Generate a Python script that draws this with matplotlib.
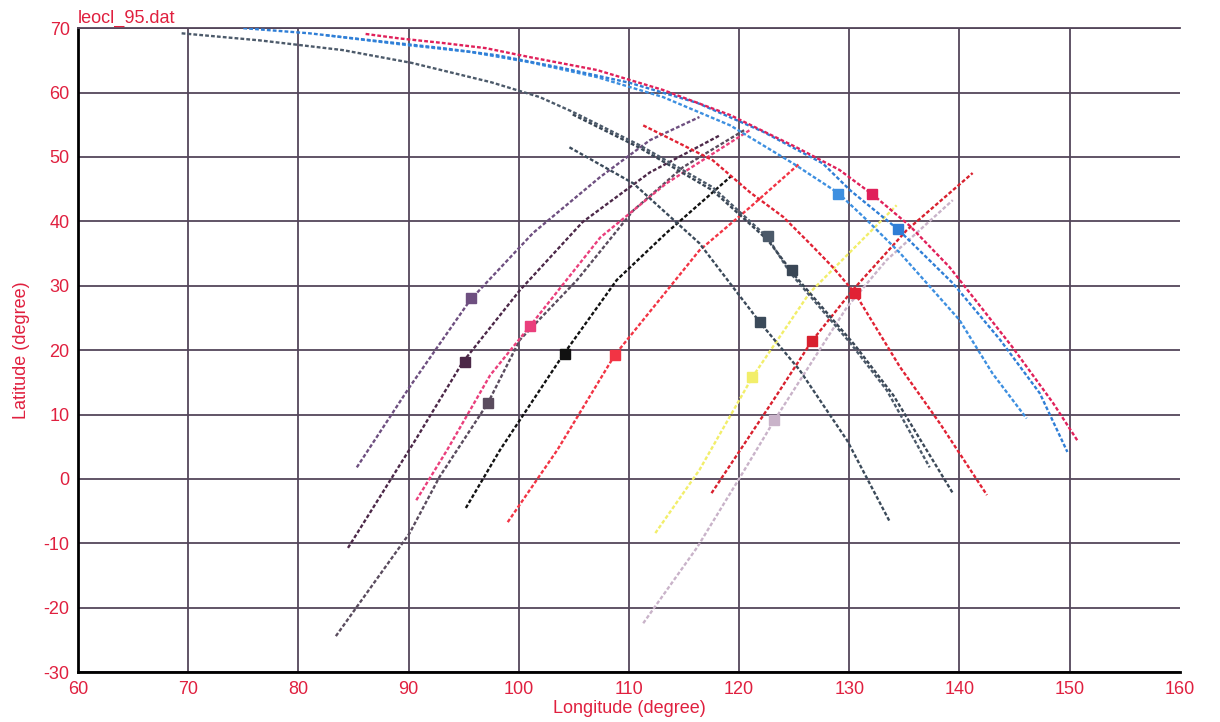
import matplotlib

matplotlib.use("Agg")
import matplotlib.pyplot as plt

# ground tracks: (longitude, latitude) in degrees
purple_lon = [85.3, 90.1, 95.6, 101.3, 107.4, 111.9, 116.4]
purple_lat = [1.8, 14.3, 27.8, 38.2, 46.9, 52.6, 56.2]

plum_lon = [84.5, 90.6, 94.9, 100.1, 105.8, 111.9, 118.3]
plum_lat = [-10.7, 6.0, 18.1, 29.3, 39.9, 47.6, 53.4]

grey_up_lon = [83.4, 90.1, 92.8, 97.2, 100.1, 105.3, 110.4, 114.9, 120.5]
grey_up_lat = [-24.4, -8.4, 0.3, 11.8, 21.6, 30.9, 41.7, 48.4, 54.2]

pink_lon = [90.7, 93.5, 97.4, 101.0, 107.4, 113.4, 121.0]
pink_lat = [-3.3, 4.5, 16.1, 23.7, 37.5, 45.9, 54.2]

black_lon = [95.2, 98.3, 104.0, 108.9, 113.4, 119.4]
black_lat = [-4.5, 4.5, 19.2, 30.9, 38.2, 47.2]

red_up1_lon = [99.0, 103.5, 108.7, 116.4, 121.0, 125.5]
red_up1_lat = [-6.7, 4.5, 19.2, 35.5, 42.2, 49.0]

yellow_lon = [112.4, 116.4, 121.2, 126.4, 134.3]
yellow_lat = [-8.4, 1.4, 15.8, 28.9, 42.5]

red_up2_lon = [117.5, 123.1, 126.6, 130.3, 135.2, 141.2]
red_up2_lat = [-2.2, 12.2, 21.4, 29.3, 38.6, 47.5]

lilac_lon = [111.3, 116.2, 120.1, 123.2, 129.8, 133.4, 139.4]
lilac_lat = [-22.4, -10.6, 0.3, 9.1, 26.7, 34.0, 43.3]

slate_lon = [104.6, 110.4, 116.4, 121.9, 125.5, 129.8, 133.7]
slate_lat = [51.5, 45.9, 36.6, 24.3, 16.9, 6.0, -6.7]

grey_a_lon = [69.4, 76.5, 84.0, 90.3, 97.5, 101.9, 104.9, 111.0, 117.6,
              122.6, 124.6, 130.1, 133.4, 137.3]
grey_a_lat = [69.2, 68.1, 66.6, 64.6, 61.6, 59.3, 57.0, 51.8, 45.3,
              37.5, 32.1, 21.1, 13.8, 1.8]

grey_b_lon = [104.9, 111.0, 117.6, 122.6, 125.1, 130.5, 134.0, 139.4]
grey_b_lat = [56.6, 51.4, 44.8, 37.1, 31.5, 20.8, 13.0, -2.2]

blue1_lon = [82.5, 89.2, 95.6, 101.0, 107.1, 113.1, 119.2, 124.9, 129.0,
             131.6, 134.6, 140.0, 143.0, 146.1]
blue1_lat = [68.9, 67.5, 66.3, 64.7, 62.4, 59.3, 54.9, 49.0, 44.4,
             40.2, 35.1, 24.7, 16.4, 9.4]

blue2_lon = [75.0, 81.0, 86.7, 93.1, 98.0, 104.0, 110.1, 116.2, 122.2,
             127.6, 130.1, 134.4, 139.4, 143.7, 147.3, 149.8]
blue2_lat = [70.0, 69.2, 68.1, 66.9, 65.8, 63.8, 61.5, 58.4, 53.9,
             49.0, 44.8, 38.8, 30.4, 21.6, 13.3, 4.2]

crimson_lon = [86.1, 89.2, 93.1, 97.0, 101.0, 107.1, 113.1, 119.2, 125.2,
               129.1, 132.1, 135.5, 139.1, 144.8, 148.5, 150.7]
crimson_lat = [69.1, 68.4, 67.7, 66.9, 65.5, 63.5, 60.4, 56.5, 51.5,
               48.0, 44.2, 39.3, 32.9, 20.5, 11.8, 6.0]

red_down_lon = [111.3, 114.6, 117.6, 121.0, 124.0, 126.4, 128.5, 130.5,
                134.6, 138.2, 142.5]
red_down_lat = [54.9, 52.1, 49.5, 44.5, 40.7, 36.6, 32.9, 28.9,
                17.4, 8.7, -2.5]

# current satellite positions (square markers)
now_lon = [95.7, 95.1, 97.2, 101.0, 104.2, 108.7, 121.2, 126.6, 123.2,
           121.9, 122.6, 124.8, 129.0, 134.4, 132.1, 130.5]
now_lat = [28.1, 18.1, 11.8, 23.7, 19.4, 19.2, 15.8, 21.4, 9.1,
           24.3, 37.7, 32.4, 44.2, 38.8, 44.2, 28.9]

tracks = [
    (purple_lon, purple_lat), (plum_lon, plum_lat), (grey_up_lon, grey_up_lat),
    (pink_lon, pink_lat), (black_lon, black_lat), (red_up1_lon, red_up1_lat),
    (yellow_lon, yellow_lat), (red_up2_lon, red_up2_lat), (lilac_lon, lilac_lat),
    (slate_lon, slate_lat), (grey_a_lon, grey_a_lat), (grey_b_lon, grey_b_lat),
    (blue1_lon, blue1_lat), (blue2_lon, blue2_lat), (crimson_lon, crimson_lat),
    (red_down_lon, red_down_lat),
]
colors = ["#6e4f80", "#4c2848", "#5a4c5e", "#ea3f7c", "#111111", "#f23444",
          "#f2ee6a", "#d8202e", "#c9b3c9", "#3b4a5a", "#4c5a6a", "#3a4756",
          "#3d8fe0", "#2f7ed6", "#e0205a", "#e12234"]

RED = "#e0203f"
GRID = "#54465a"

plt.rcParams["font.family"] = ["Liberation Sans", "DejaVu Sans"]
plt.rcParams["axes.unicode_minus"] = False

fig = plt.figure(figsize=(12.2, 7.22), dpi=100)
ax = fig.add_axes([0.064, 0.069, 0.903, 0.892])

for (xs, ys), c in zip(tracks, colors):
    ax.plot(xs, ys, color=c, lw=1.7, ls=(0, (1.6, 0.9)), zorder=3)
for x, y, c in zip(now_lon, now_lat, colors):
    ax.plot([x], [y], marker="s", ms=7, color=c, mec=c, zorder=4)

ax.set_xlim(60, 160)
ax.set_ylim(-30, 70)
ax.set_xticks(range(60, 161, 10))
ax.set_yticks(range(-30, 71, 10))
ax.grid(True, color=GRID, lw=1.3, zorder=1)
ax.get_xgridlines()[-1].set_visible(False)
ax.tick_params(length=0, labelsize=13, labelcolor=RED, pad=6)

for side in ("left", "bottom"):
    ax.spines[side].set_color("black")
    ax.spines[side].set_linewidth(2)
ax.spines["top"].set_color(GRID)
ax.spines["top"].set_linewidth(1.3)
ax.spines["right"].set_visible(False)

ax.set_xlabel("Longitude (degree)", fontsize=13, color=RED, labelpad=2)
ax.set_ylabel("Latitude (degree)", fontsize=13, color=RED, labelpad=10)
ax.set_title("leocl_95.dat", fontsize=13, color=RED, loc="left", pad=4)

fig.savefig("out.png", dpi=100)
